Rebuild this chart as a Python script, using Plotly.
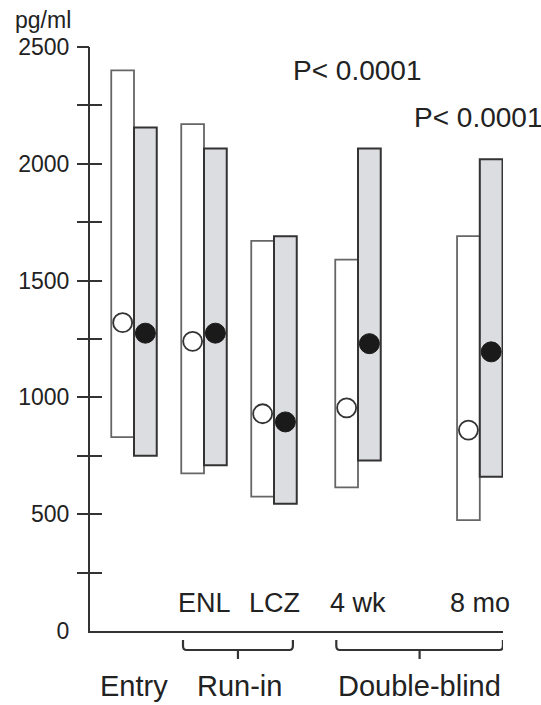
import plotly.graph_objects as go

# ---- data (pg/ml) ----
timepoints = ["Entry", "ENL", "LCZ", "4 wk", "8 mo"]
time_labels = ["", "ENL", "LCZ", "4 wk", "8 mo"]
# open (white) group: range low/high and median
open_low = [830, 675, 575, 615, 475]
open_high = [2400, 2170, 1670, 1590, 1690]
open_mid = [1320, 1240, 930, 955, 860]
# filled (gray) group
fill_low = [750, 710, 545, 730, 660]
fill_high = [2155, 2065, 1690, 2065, 2020]
fill_mid = [1275, 1275, 895, 1230, 1195]
p_texts = ["P< 0.0001", "P< 0.0001"]
y_ticks = [0, 500, 1000, 1500, 2000, 2500]
minor_ticks = [250, 500, 750, 1000, 1250, 1500, 1750, 2000, 2250, 2500]

# ---- layout helpers (positions only) ----
group_x = [1.0, 2.0, 3.0, 4.2, 5.94]
bw = 0.325
W, H = 541, 705
L, R, T, B = 90, 38, 47, 74
ph = H - T - B

def py(px):  # pixel row -> paper y
    return (H - B - px) / ph

FONT = "Liberation Sans, Arial, sans-serif"
INK = "#222222"

fig = go.Figure()
fig.add_trace(go.Bar(
    x=group_x, base=open_low, y=[h - l for h, l in zip(open_high, open_low)],
    width=bw, offset=-bw,
    marker=dict(color="white", line=dict(color="#666666", width=1.8)),
    showlegend=False, hoverinfo="skip"))
fig.add_trace(go.Bar(
    x=group_x, base=fill_low, y=[h - l for h, l in zip(fill_high, fill_low)],
    width=bw, offset=0,
    marker=dict(color="#dcdde0", line=dict(color="#333333", width=2)),
    showlegend=False, hoverinfo="skip"))
fig.add_trace(go.Scatter(
    x=[g - bw / 2 for g in group_x], y=open_mid, mode="markers",
    marker=dict(size=19, color="white", line=dict(color="#333333", width=1.8)),
    showlegend=False, hoverinfo="skip"))
fig.add_trace(go.Scatter(
    x=[g + bw / 2 for g in group_x], y=fill_mid, mode="markers",
    marker=dict(size=20, color="#1a1a1a", line=dict(color="#1a1a1a", width=1)),
    showlegend=False, hoverinfo="skip"))
# helper traces for crossing tick marks
fig.add_trace(go.Scatter(x=[None], y=[None], yaxis="y2", showlegend=False))
fig.add_trace(go.Scatter(x=[None], y=[None], yaxis="y3", showlegend=False))

x0 = group_x[0] - (group_x[1] - group_x[0]) * (134 - L) / 70
x1 = x0 + (W - L - R) / 70
yr = [0, 2500]

fig.update_layout(
    width=W, height=H, margin=dict(l=L, r=R, t=T, b=B),
    paper_bgcolor="white", plot_bgcolor="white",
    barmode="overlay",
    font=dict(family=FONT, color=INK),
    xaxis=dict(range=[x0, x1], showgrid=False, zeroline=False, showline=True,
               linecolor="#333333", linewidth=2, showticklabels=False, ticks=""),
    yaxis=dict(range=yr, tickvals=y_ticks, ticktext=[str(v) for v in y_ticks],
               ticks="outside", ticklen=14, tickcolor="rgba(0,0,0,0)",
               showgrid=False, zeroline=False, showline=True,
               linecolor="#333333", linewidth=2,
               tickfont=dict(size=23, color=INK, family=FONT)),
    yaxis2=dict(range=yr, overlaying="y", anchor="x", side="left",
                tickvals=minor_ticks, ticks="outside", ticklen=12, tickwidth=2,
                tickcolor="#333333", showticklabels=False, showgrid=False,
                zeroline=False, showline=False),
    yaxis3=dict(range=yr, overlaying="y", anchor="x", side="left",
                tickvals=minor_ticks, ticks="inside", ticklen=12, tickwidth=2,
                tickcolor="#333333", showticklabels=False, showgrid=False,
                zeroline=False, showline=False),
)

ann = []
ann.append(dict(text="pg/ml", xref="paper", yref="paper", x=(73 - L) / (W - L - R),
                y=py(20), xanchor="right", yanchor="middle", showarrow=False,
                font=dict(size=23, family=FONT, color=INK)))
p_px = [(357, 70), (478, 117)]
for (cx, cy), t in zip(p_px, p_texts):
    ann.append(dict(text=t, xref="paper", yref="paper", x=(cx - L) / (W - L - R),
                    y=py(cy), xanchor="center", yanchor="middle", showarrow=False,
                    font=dict(size=28, family=FONT, color=INK)))
for gx, t in zip(group_x, time_labels):
    if t:
        ann.append(dict(text=t, xref="x", yref="paper", x=gx, y=py(603),
                        xanchor="center", yanchor="middle", showarrow=False,
                        font=dict(size=27, family=FONT, color=INK)))
phase_x = [group_x[0], (group_x[1] + group_x[2]) / 2,
           ((group_x[3] - 0.31) + (group_x[4] + 0.33)) / 2]
for px_, t in zip(phase_x, ["Entry", "Run-in", "Double-blind"]):
    ann.append(dict(text=t, xref="x", yref="paper", x=px_, y=py(686),
                    xanchor="center", yanchor="middle", showarrow=False,
                    font=dict(size=29, family=FONT, color=INK)))
fig.update_layout(annotations=ann)

def bracket(xa, xb):
    ya, yb, yc = py(640), py(650), py(659)
    rx = 0.05
    ry = (py(646) - yb)
    xm = (xa + xb) / 2
    p = (f"M {xa},{ya} L {xa},{yb + ry} Q {xa},{yb} {xa + rx},{yb} "
         f"L {xb - rx},{yb} Q {xb},{yb} {xb},{yb + ry} L {xb},{ya} "
         f"M {xm},{yb} L {xm},{yc}")
    return dict(type="path", path=p, xref="x", yref="paper",
                line=dict(color="#333333", width=2.2))

fig.update_layout(shapes=[
    bracket(group_x[1] - 0.30, group_x[2] + 0.27),
    bracket(group_x[3] - 0.31, group_x[4] + 0.33),
])

fig.write_html("out.html", config={"displayModeBar": False})
# remove the default page margin so the figure sits at the window's corner
with open("out.html", "r", encoding="utf-8") as f:
    html = f.read()
html = html.replace("<head>", "<head><style>html,body{margin:0;padding:0;overflow:hidden;}</style>", 1)
with open("out.html", "w", encoding="utf-8") as f:
    f.write(html)
